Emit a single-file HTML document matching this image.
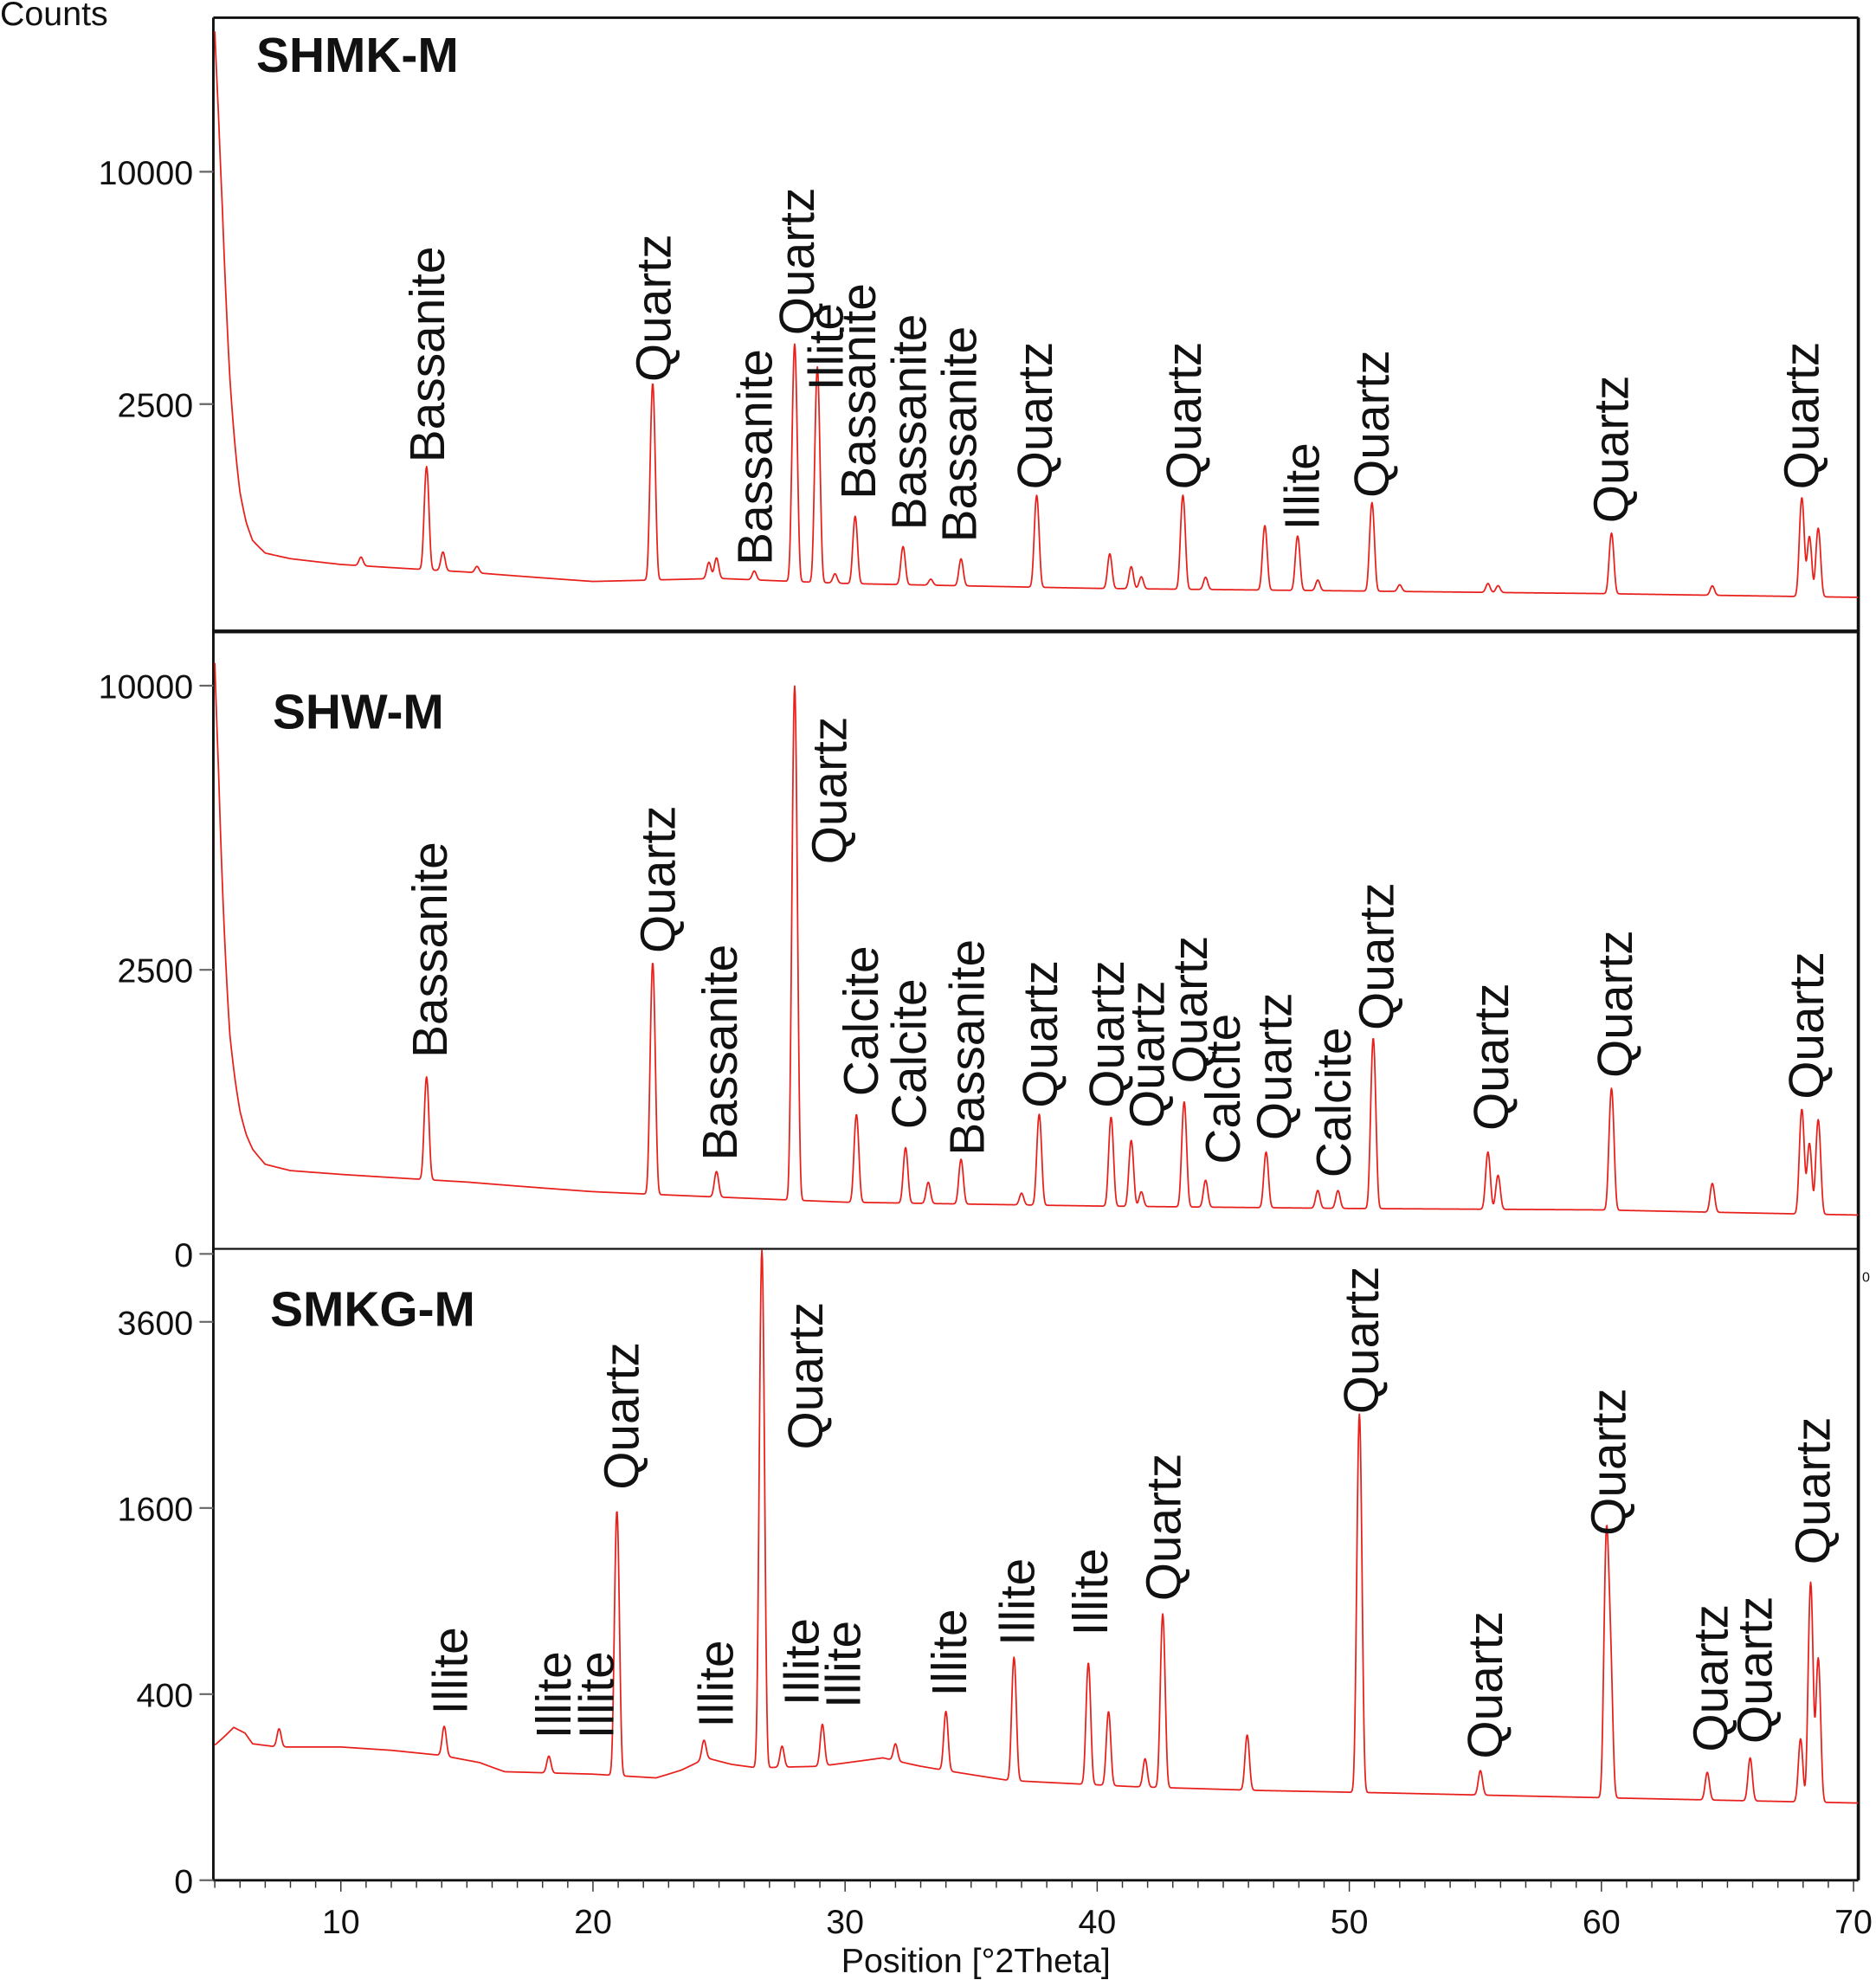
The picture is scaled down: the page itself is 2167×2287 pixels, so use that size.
<!DOCTYPE html>
<html><head><meta charset="utf-8"><style>
html,body{margin:0;padding:0;background:#fff;}
svg{display:block;}
text{font-family:"Liberation Sans",Arial,sans-serif;}
</style></head><body>
<svg id="chart" width="2167" height="2287" viewBox="0 0 1486 1568" preserveAspectRatio="none" xmlns="http://www.w3.org/2000/svg">
<g id="frame"></g>
<g id="traces"></g>
<g id="labels"></g>
<g id="axes"></g>
</svg>
<script>
// ---------- data ----------
const xTicks = [10,20,30,40,50,60,70];
const panelNames = ["SHMK-M","SHW-M","SMKG-M"];
// baselines: [theta, counts]
const base1 = [[5,16950],[5.15,12500],[5.3,8500],[5.45,5200],[5.6,3073],[5.8,1700],[6,960],[6.25,600],[6.5,427],[7,322],[8,280],[10,240],[15,192],[20,140],[25,156],[30,130],[40,107],[50,96],[60,85],[70,71]];
const base2 = [[5,10816],[5.15,7200],[5.3,4240],[5.45,2500],[5.6,1478],[5.8,950],[6,630],[6.25,440],[6.5,340],[7,249],[8,215],[10,196],[15,160],[20,120],[25,100],[30,83],[40,71],[50,64],[60,60],[70,47]];
const base3 = [[5,211],[5.4,240],[5.75,270],[6.2,250],[6.5,215],[7.5,205],[10,205],[12,195],[14,180],[15.5,160],[16.5,136],[20,130],[22.5,121],[23.5,140],[24.5,173],[25.5,155],[26.5,146],[29,150],[31.5,173],[33,150],[36.5,115],[41.5,101],[46.5,93],[51.5,88],[70,69]];
// peaks: [theta, net counts]
const peaks1 = [[10.8,60],[13.4,1130],[14.05,130],[15.4,40],[22.37,2820],[24.6,100],[24.9,130],[26.4,50],[28.0,3820],[28.9,3230],[29.6,50],[30.4,540],[32.3,250],[33.4,30],[34.6,160],[37.6,810],[40.5,210],[41.35,120],[41.75,60],[43.4,820],[44.3,60],[46.65,470],[47.95,370],[48.75,50],[50.9,735],[52.0,30],[55.5,40],[55.9,30],[60.4,410],[64.4,40],[67.95,820],[68.25,390],[68.6,470]];
const peaks2 = [[13.4,800],[22.37,2520],[24.9,110],[28.0,9900],[30.45,520],[32.4,270],[33.3,80],[34.6,200],[37.0,40],[37.7,530],[40.55,510],[41.35,330],[41.75,50],[43.45,650],[44.3,100],[46.7,255],[48.75,60],[49.55,60],[50.95,1380],[55.5,260],[55.9,130],[60.4,790],[64.4,100],[67.95,600],[68.25,330],[68.6,510]];
const peaks3 = [[7.55,60],[14.1,95],[18.25,45],[20.95,1450],[24.4,57],[26.7,4450],[27.5,60],[29.1,130],[32.0,50],[34.0,190],[36.7,460],[39.65,440],[40.45,225],[41.9,70],[42.6,720],[45.95,150],[50.4,2420],[55.2,55],[60.2,1280],[60.35,500],[64.2,60],[65.9,100],[67.9,160],[68.3,955],[68.6,500]];
// labels: [text, theta, counts at label start]
const labels1 = [["Bassanite",13.4,1400],["Quartz",22.37,3000],["Bassanite",26.4,235],["Quartz",28.05,4200],["Illite",29.2,2800],["Bassanite",30.5,870],["Bassanite",32.5,523],["Bassanite",34.5,410],["Quartz",37.5,1000],["Quartz",43.4,1000],["Illite",48.1,523],["Quartz",50.85,890],["Quartz",60.35,595],["Quartz",67.9,1000]];
const labels2 = [["Bassanite",13.5,1190],["Quartz",22.55,2800],["Bassanite",25.0,270],["Quartz",29.35,4700],["Calcite",30.6,770],["Calcite",32.5,482],["Bassanite",34.8,300],["Quartz",37.7,660],["Quartz",40.35,660],["Quartz",41.95,490],["Quartz",43.65,900],["Calcite",44.95,250],["Quartz",47.0,400],["Calcite",49.35,180],["Quartz",51.05,1550],["Quartz",55.6,470],["Quartz",60.5,960],["Quartz",68.1,740]];
const labels3 = [["Illite",14.3,317],["Illite",18.4,231],["Illite",20.1,231],["Quartz",21.1,1760],["Illite",24.85,269],["Quartz",28.4,2140],["Illite",28.25,352],["Illite",29.9,342],["Illite",34.1,390],["Illite",36.8,635],["Illite",39.7,690],["Quartz",42.6,900],["Quartz",50.45,2510],["Quartz",55.35,170],["Quartz",60.25,1370],["Quartz",64.3,190],["Quartz",66.05,215],["Quartz",68.35,1150]];
const yTicks1 = [10000,2500];
const yTicks2 = [10000,2500,0];
const yTicks3 = [3600,1600,400,0];

// ---------- scales ----------
const NS="http://www.w3.org/2000/svg";
function xs(t){return 270+(t-10)*19.97;}
const panels=[
 {y0:504,k:3.68,top:14,bot:500,base:base1,peaks:peaks1,labels:labels1,ticks:yTicks1,title:[203,57]},
 {y0:993,k:4.5,top:500,bot:989,base:base2,peaks:peaks2,labels:labels2,ticks:yTicks2,title:[216,577]},
 {y0:1489,k:7.37,top:989,bot:1489,base:base3,peaks:peaks3,labels:labels3,ticks:yTicks3,title:[214,1050]}
];
function ys(p,c){return p.y0-p.k*Math.sqrt(Math.max(c,0));}
function mk(tag,attrs,parent){const e=document.createElementNS(NS,tag);for(const k in attrs)e.setAttribute(k,attrs[k]);parent.appendChild(e);return e;}
function baseAt(b,t){
 if(t<=b[0][0])return b[0][1];
 for(let i=1;i<b.length;i++){if(t<=b[i][0]){const f=(t-b[i-1][0])/(b[i][0]-b[i-1][0]);return Math.exp(Math.log(b[i-1][1])+f*(Math.log(b[i][1])-Math.log(b[i-1][1])));}}
 return b[b.length-1][1];
}
const frame=document.getElementById('frame'),traces=document.getElementById('traces'),labG=document.getElementById('labels'),axes=document.getElementById('axes');

panels.forEach((p,pi)=>{
 let d="";
 for(let t=5.0;t<=70.2;t+=0.02){
   let c=baseAt(p.base,t);
   p.peaks.forEach(pk=>{const z=(t-pk[0])/0.08;c+=pk[1]*Math.exp(-0.5*z*z);});
   let y=Math.max(ys(p,c),p.top+1);
   d+=(d?"L":"M")+xs(t).toFixed(2)+","+y.toFixed(2);
 }
 const path=mk('path',{d:d,fill:'none',stroke:'#e8201c','stroke-width':1.2,'stroke-linejoin':'round'},traces);
 
 
 p.labels.forEach(l=>{
   const x=xs(l[1])+14, y=ys(p,l[2]);
   const tx=mk('text',{x:x,y:y,transform:'rotate(-90 '+x+' '+y+')','font-size':39,fill:'#111'},labG);
   tx.textContent=l[0];
   
   
 });
 const ti=mk('text',{x:p.title[0],y:p.title[1],'font-size':39,'font-weight':'bold',fill:'#111'},labG);
 ti.textContent=panelNames[pi];
 
 
 p.ticks.forEach(v=>{
   const y=ys(p,v);
   const ln=mk('line',{x1:158,x2:169,y1:y,y2:y,stroke:'#666','stroke-width':1.5},axes);
   
   
   const tl=mk('text',{x:153,y:y+10,'font-size':27,'text-anchor':'end',fill:'#111'},axes);
   tl.textContent=String(v);
   
   
 });
});

[[169,14,1472,14,2],[169,14,169,1489,2],[1472,14,1472,1489,2.5],[169,500,1472,500,3],[169,989,1472,989,1.6],[169,1489,1472,1489,2]].forEach(a=>{
 const l=mk('line',{x1:a[0],y1:a[1],x2:a[2],y2:a[3],stroke:'#111','stroke-width':a[4]},frame);
 
 
});
for(let t=5;t<=70;t++){
 const major=t%10===0;
 const l=mk('line',{x1:xs(t),x2:xs(t),y1:1489,y2:1489+(major?9:6),stroke:'#333','stroke-width':1},axes);
 
 
}
xTicks.forEach(t=>{
 const tl=mk('text',{x:xs(t),y:1531,'font-size':27,'text-anchor':'middle',fill:'#111'},axes);
 tl.textContent=String(t);
 
 
});
const xt=mk('text',{x:773,y:1562,'font-size':27,'text-anchor':'middle',fill:'#111'},axes);
xt.textContent="Position [°2Theta]";


const yt=mk('text',{x:0,y:20,'font-size':27,fill:'#111'},axes);
yt.textContent="Counts";


const z0=mk('text',{x:1475,y:1015,'font-size':11,fill:'#111'},axes);
z0.textContent="0";


</script>
</body></html>
